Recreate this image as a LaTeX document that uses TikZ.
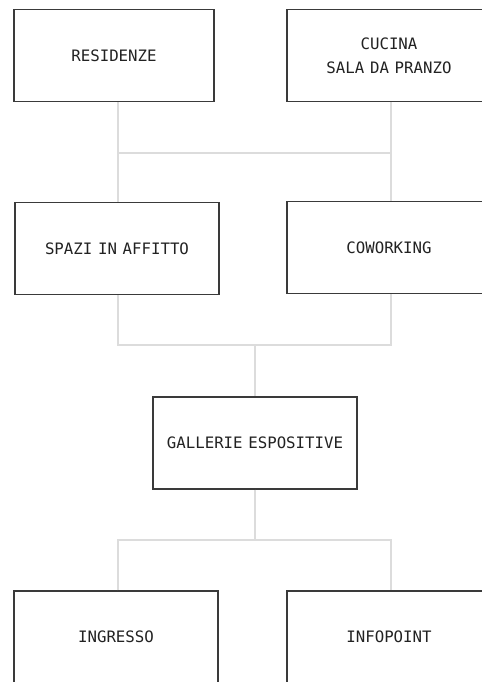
\documentclass[tikz,border=0pt]{standalone}
\usepackage{fontspec}
\setmonofont[WordSpace=0.6]{DejaVu Sans Mono}
\usepackage{tikz}
\usetikzlibrary{positioning, calc}
\definecolor{boxline}{HTML}{3A3A3A}
\definecolor{linkgray}{HTML}{DCDCDC}
\definecolor{ink}{HTML}{222222}

\begin{document}
\begin{tikzpicture}[x=0.75pt, y=-0.75pt,
  area/.style={draw=boxline, line width=0.9pt, fill=white, text=ink,
               minimum width=153pt, minimum height=69pt, inner sep=0pt,
               font=\ttfamily\fontsize{11.8}{18}\selectfont, align=center},
  link/.style={draw=linkgray, line width=0.9pt}
]
\useasboundingbox (0,0) rectangle (482,682);
\clip (0,0) rectangle (482,682);

% bus columns and levels
\coordinate (lcol) at (118,0);
\coordinate (rcol) at (391,0);
\coordinate (mcol) at (255,0);
\coordinate (lvA) at (0,153);
\coordinate (lvB) at (0,345);
\coordinate (lvC) at (0,540);

% Top row
\node[area, minimum width=150pt] (res) at (114,55.5) {RESIDENZE};
\node[area] (cuc) at (389,55.5) {CUCINA\\SALA DA PRANZO};

% Second row
\node[area] (spa) at (117,248.5) {SPAZI IN AFFITTO};
\node[area] (cow) at (389,247.5) {COWORKING};

% Galleries
\node[area] (gal) at (255,443) {GALLERIE ESPOSITIVE};

% Bottom row
\node[area] (ing) at (116,637) {INGRESSO};
\node[area] (inf) at (389,637) {INFOPOINT};

% top row -> second row
\draw[link] (res.south -| lcol) -- (spa.north -| lcol);
\draw[link] (cuc.south -| rcol) -- (cow.north -| rcol);
\draw[link] (lcol |- lvA) -- (rcol |- lvA);

% second row -> galleries
\draw[link] (spa.south -| lcol) -- (lcol |- lvB) -- (rcol |- lvB) -- (cow.south -| rcol);
\draw[link] (mcol |- lvB) -- (gal.north -| mcol);

% galleries -> bottom row
\draw[link] (gal.south -| mcol) -- (mcol |- lvC);
\draw[link] (ing.north -| lcol) -- (lcol |- lvC) -- (rcol |- lvC) -- (inf.north -| rcol);

\end{tikzpicture}
\end{document}
